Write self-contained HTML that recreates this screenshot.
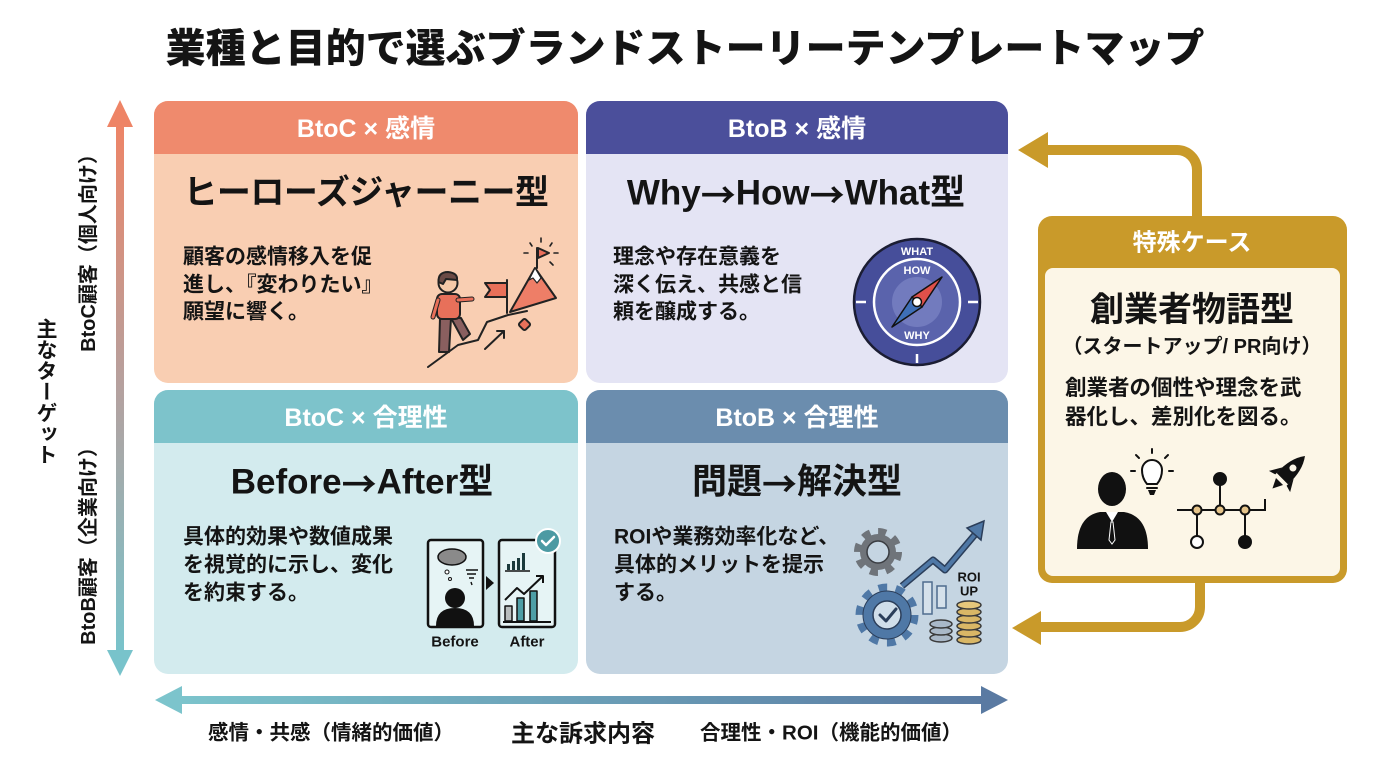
<!DOCTYPE html>
<html><head><meta charset="utf-8">
<style>
html,body{margin:0;padding:0;background:#fff;}
#wrap{position:relative;width:1376px;height:768px;overflow:hidden;background:#fff;font-family:"Liberation Sans","Noto Sans CJK JP",sans-serif;}
svg{position:absolute;left:0;top:0;}
svg text{font-family:"Liberation Sans","Noto Sans CJK JP",sans-serif;font-weight:700;fill:#141414;}
.ar{font-family:"Noto Sans CJK JP",sans-serif;}
.vt{position:absolute;left:34px;top:318px;writing-mode:vertical-rl;font-size:21px;font-weight:700;color:#141414;line-height:22px;font-family:"Liberation Sans","Noto Sans CJK JP",sans-serif;}
</style></head>
<body><div id="wrap">
<svg width="1376" height="768" viewBox="0 0 1376 768">
<defs>
<clipPath id="c1"><rect x="154" y="101" width="424" height="282" rx="14"/></clipPath>
<clipPath id="c2"><rect x="586" y="101" width="422" height="282" rx="14"/></clipPath>
<clipPath id="c3"><rect x="154" y="390" width="424" height="284" rx="14"/></clipPath>
<clipPath id="c4"><rect x="586" y="390" width="422" height="284" rx="14"/></clipPath>
<linearGradient id="gv" x1="0" y1="0" x2="0" y2="1">
<stop offset="0" stop-color="#EE8466"/><stop offset="0.5" stop-color="#B5A19F"/><stop offset="1" stop-color="#78C3CB"/>
</linearGradient>
<linearGradient id="gh" x1="0" y1="0" x2="1" y2="0">
<stop offset="0" stop-color="#7CC4CC"/><stop offset="1" stop-color="#5A7AA2"/>
</linearGradient>
</defs>

<!-- Title -->
<text x="685" y="49" text-anchor="middle" dominant-baseline="central" style="font-size:40px;font-weight:900">業種と目的で選ぶブランドストーリーテンプレートマップ</text>

<!-- Panels -->
<g clip-path="url(#c1)"><rect x="154" y="101" width="424" height="282" fill="#F9CEB2"/><rect x="154" y="101" width="424" height="53" fill="#EF8A6D"/></g>
<g clip-path="url(#c2)"><rect x="586" y="101" width="422" height="282" fill="#E4E4F4"/><rect x="586" y="101" width="422" height="53" fill="#4B4F9B"/></g>
<g clip-path="url(#c3)"><rect x="154" y="390" width="424" height="284" fill="#D3EBEE"/><rect x="154" y="390" width="424" height="53" fill="#7DC3CB"/></g>
<g clip-path="url(#c4)"><rect x="586" y="390" width="422" height="284" fill="#C5D5E2"/><rect x="586" y="390" width="422" height="53" fill="#6B8DAE"/></g>

<!-- headers -->
<g style="font-size:25px">
<text x="366" y="129" text-anchor="middle" dominant-baseline="central" style="fill:#fff">BtoC × 感情</text>
<text x="797" y="129" text-anchor="middle" dominant-baseline="central" style="fill:#fff">BtoB × 感情</text>
<text x="366" y="418" text-anchor="middle" dominant-baseline="central" style="fill:#fff">BtoC × 合理性</text>
<text x="797" y="418" text-anchor="middle" dominant-baseline="central" style="fill:#fff">BtoB × 合理性</text>
</g>

<!-- panel titles -->
<text x="366" y="193" text-anchor="middle" dominant-baseline="central" style="font-size:34px;letter-spacing:-0.5px">ヒーローズジャーニー型</text>
<text x="796" y="193" text-anchor="middle" dominant-baseline="central" style="font-size:35px">Why<tspan class="ar">→</tspan>How<tspan class="ar">→</tspan>What型</text>
<text x="362" y="482" text-anchor="middle" dominant-baseline="central" style="font-size:35px">Before<tspan class="ar">→</tspan>After型</text>
<text x="797" y="482" text-anchor="middle" dominant-baseline="central" style="font-size:35px">問題<tspan class="ar">→</tspan>解決型</text>

<!-- body text -->
<g style="font-size:21px">
<text x="183" y="257" dominant-baseline="central">顧客の感情移入を促</text>
<text x="183" y="285" dominant-baseline="central">進し、『変わりたい』</text>
<text x="183" y="312" dominant-baseline="central">願望に響く。</text>
<text x="613" y="257" dominant-baseline="central">理念や存在意義を</text>
<text x="613" y="285" dominant-baseline="central">深く伝え、共感と信</text>
<text x="613" y="312" dominant-baseline="central">頼を醸成する。</text>
<text x="183" y="537" dominant-baseline="central">具体的効果や数値成果</text>
<text x="183" y="565" dominant-baseline="central">を視覚的に示し、変化</text>
<text x="183" y="593" dominant-baseline="central">を約束する。</text>
<text x="614" y="537" dominant-baseline="central">ROIや業務効率化など、</text>
<text x="614" y="565" dominant-baseline="central">具体的メリットを提示</text>
<text x="614" y="593" dominant-baseline="central">する。</text>
</g>

<!-- TL icon: hero climbing -->
<g stroke="#222" stroke-width="2" stroke-linecap="round" stroke-linejoin="round">
 <g stroke-width="1.6">
 <line x1="541" y1="238" x2="541" y2="242"/><line x1="530" y1="243" x2="532" y2="246"/><line x1="552" y1="243" x2="550" y2="246"/>
 <line x1="524" y1="253" x2="528" y2="253"/><line x1="554" y1="253" x2="558" y2="253"/><line x1="550" y1="262" x2="553" y2="265"/>
 </g>
 <line x1="537" y1="268" x2="537" y2="248"/>
 <polygon points="538,248 549,253 538,258" fill="#E96F5B"/>
 <polygon points="535,268 510,312 556,298" fill="#EE7E67"/>
 <polygon points="535,268 529,280 533,278 537,283 541,278" fill="#fff" stroke-width="1.2"/>
 <line x1="507" y1="280" x2="507" y2="313"/>
 <polygon points="485,283 507,283 507,297 485,297 490,290" fill="#E8705A"/>
 <polyline points="428,367 458,345 478,340 487,322 508,315 527,311" fill="none"/>
 <line x1="485" y1="349" x2="504" y2="331"/><polyline points="497,331 504,331 504,338" fill="none"/>
 <rect x="520" y="320" width="9" height="9" rx="2" fill="#E8705A" transform="rotate(45 524.5 324.5)"/>
 <!-- person -->
 <polygon points="440,318 451,318 449,352 439,352" fill="#8A5F5F"/>
 <polygon points="451,318 461,318 470,334 463,340" fill="#8A5F5F"/>
 <rect x="437" y="294" width="23" height="25" rx="5" fill="#E8705A"/>
 <path d="M458,300 L472,299" stroke-width="5" stroke="#222"/><path d="M458,300 L472,299" stroke-width="3" stroke="#E8705A"/>
 <path d="M438,300 L433,317" stroke-width="5" stroke="#222"/><path d="M438,300 L433,317" stroke-width="3" stroke="#E8705A"/>
 <circle cx="448" cy="283" r="9.5" fill="#F6C9A8"/>
 <path d="M438.5,282 Q438,272 448,272 Q458,273 457,280 L446,279 L443,284 Z" fill="#6B4A45"/>
</g>

<!-- TR compass -->
<g>
 <circle cx="917" cy="302" r="63" fill="#464E9A" stroke="#1b1d33" stroke-width="2.5"/>
 <circle cx="917" cy="302" r="43" fill="#5A63AC" stroke="#fff" stroke-width="2.5"/>
 <circle cx="917" cy="302" r="25" fill="#727BBE"/>
 <line x1="856" y1="302" x2="866" y2="302" stroke="#fff" stroke-width="2.5"/>
 <line x1="968" y1="302" x2="978" y2="302" stroke="#fff" stroke-width="2.5"/>
 <line x1="917" y1="354" x2="917" y2="363" stroke="#fff" stroke-width="2.5"/>
 <text x="917" y="252" text-anchor="middle" dominant-baseline="central" style="font-size:11px;fill:#fff">WHAT</text>
 <text x="917" y="271" text-anchor="middle" dominant-baseline="central" style="font-size:11px;fill:#fff">HOW</text>
 <text x="917" y="336" text-anchor="middle" dominant-baseline="central" style="font-size:11px;fill:#fff">WHY</text>
 <polygon points="942,277 922,307 912,297" fill="#E0504A" stroke="#111" stroke-width="1.5" stroke-linejoin="round"/>
 <polygon points="892,327 922,307 912,297" fill="#3E6FB8" stroke="#111" stroke-width="1.5" stroke-linejoin="round"/>
 <circle cx="917" cy="302" r="4.5" fill="#fff" stroke="#111" stroke-width="1.5"/>
</g>

<!-- BL icon: before/after -->
<g stroke="#111" stroke-width="2.5" stroke-linejoin="round">
 <rect x="428" y="540" width="55" height="87" rx="3" fill="#E6F4F5"/>
 <circle cx="455" cy="598" r="10" fill="#111" stroke="none"/>
 <path d="M436,626 Q436,608 455,608 Q474,608 474,626 Z" fill="#111" stroke="none"/>
 <ellipse cx="452" cy="557" rx="14" ry="8" fill="#8A8A8A" stroke-width="1.5"/>
 <circle cx="447" cy="572" r="2" fill="#fff" stroke-width="1"/>
 <circle cx="450" cy="579" r="1.5" fill="#fff" stroke-width="1"/>
 <path d="M466,570 L478,570 M467,574 L476,574 M469,578 L474,578 M471,582 L472,585" stroke-width="1.4" fill="none"/>
 <polygon points="486,576 494,583 486,590" fill="#111" stroke="none"/>
 <rect x="499" y="540" width="56" height="87" rx="3" fill="#E6F4F5"/>
 <g stroke="none" fill="#1b3a3c">
  <rect x="507" y="564" width="3" height="6"/><rect x="512" y="561" width="3" height="9"/><rect x="517" y="558" width="3" height="12"/><rect x="522" y="553" width="3" height="17"/>
 </g>
 <line x1="505" y1="571" x2="530" y2="571" stroke-width="1.5"/>
 <polyline points="505,600 517,588 524,594 543,576" fill="none" stroke-width="2"/>
 <polyline points="536,576 543,576 543,583" fill="none" stroke-width="2"/>
 <rect x="505" y="606" width="7" height="15" fill="#B8BDBD" stroke-width="1.5"/>
 <rect x="517" y="598" width="7" height="23" fill="#4E9EA6" stroke-width="1.5"/>
 <rect x="530" y="591" width="7" height="30" fill="#4E9EA6" stroke-width="1.5"/>
 <line x1="503" y1="622" x2="551" y2="622" stroke-width="2"/>
 <circle cx="548" cy="541" r="12" fill="#4C9AA3" stroke="#fff" stroke-width="2"/>
 <polyline points="542,541 546,545 554,537" fill="none" stroke="#fff" stroke-width="2.5" stroke-linecap="round"/>
</g>
<text x="455" y="642" text-anchor="middle" dominant-baseline="central" style="font-size:15px">Before</text>
<text x="527" y="642" text-anchor="middle" dominant-baseline="central" style="font-size:15px">After</text>

<!-- BR icon: gears ROI -->
<g>
 <circle cx="878" cy="552" r="20" fill="none" stroke="#6F747A" stroke-width="8" stroke-dasharray="7.85 7.85"/>
 <circle cx="878" cy="552" r="18" fill="#6F747A"/>
 <circle cx="878" cy="552" r="11" fill="#C5D5E2" stroke="#3a3d42" stroke-width="1.5"/>
 <circle cx="887" cy="615" r="27" fill="none" stroke="#4F78A6" stroke-width="9" stroke-dasharray="8.48 8.48"/>
 <circle cx="887" cy="615" r="24" fill="#4F78A6" stroke="#2B3E5A" stroke-width="1"/>
 <circle cx="887" cy="615" r="14" fill="#D0DEEA" stroke="#2B3E5A" stroke-width="1.5"/>
 <polyline points="880,615 886,621 896,609" fill="none" stroke="#2B3E5A" stroke-width="3" stroke-linecap="round" stroke-linejoin="round"/>
 <rect x="923" y="582" width="9" height="32" fill="#D5E1EB" stroke="#4F6C8E" stroke-width="1.5"/>
 <rect x="937" y="586" width="9" height="22" fill="#D5E1EB" stroke="#4F6C8E" stroke-width="1.5"/>
 <polyline points="902,586 933,560 945,570 978,531" fill="none" stroke="#2B3E5A" stroke-width="7" stroke-linejoin="round"/>
 <polyline points="902,586 933,560 945,570 978,531" fill="none" stroke="#4F78A6" stroke-width="4" stroke-linejoin="round"/>
 <polygon points="984,521 967,528 981,540" fill="#4F78A6" stroke="#2B3E5A" stroke-width="1.5"/>
 <g stroke="#3a3a3a" stroke-width="1.5">
  <ellipse cx="941" cy="638" rx="11" ry="4" fill="#A9B8C8"/>
  <ellipse cx="941" cy="631" rx="11" ry="4" fill="#A9B8C8"/>
  <ellipse cx="941" cy="624" rx="11" ry="4" fill="#A9B8C8"/>
  <ellipse cx="969" cy="640" rx="12" ry="4" fill="#D9B766"/>
  <ellipse cx="969" cy="633" rx="12" ry="4" fill="#D9B766"/>
  <ellipse cx="969" cy="626" rx="12" ry="4" fill="#D9B766"/>
  <ellipse cx="969" cy="619" rx="12" ry="4" fill="#D9B766"/>
  <ellipse cx="969" cy="612" rx="12" ry="4" fill="#D9B766"/>
  <ellipse cx="969" cy="605" rx="12" ry="4" fill="#E6C77B"/>
 </g>
 <text x="969" y="577" text-anchor="middle" dominant-baseline="central" style="font-size:13px">ROI</text>
 <text x="969" y="591" text-anchor="middle" dominant-baseline="central" style="font-size:13px">UP</text>
</g>

<!-- Left axis arrow -->
<rect x="116" y="122" width="8" height="532" fill="url(#gv)"/>
<polygon points="120,100 107,127 133,127" fill="#EE8466"/>
<polygon points="120,676 107,650 133,650" fill="#78C3CB"/>
<text transform="translate(89,248) rotate(-90)" text-anchor="middle" dominant-baseline="central" style="font-size:20px">BtoC顧客（個人向け）</text>
<text transform="translate(89,541) rotate(-90)" text-anchor="middle" dominant-baseline="central" style="font-size:20px">BtoB顧客（企業向け）</text>

<!-- Bottom axis arrow -->
<rect x="178" y="696" width="808" height="8" fill="url(#gh)"/>
<polygon points="155,700 182,686 182,714" fill="#7CC4CC"/>
<polygon points="1008,700 981,686 981,714" fill="#5A7AA2"/>
<text x="331" y="733" text-anchor="middle" dominant-baseline="central" style="font-size:20.5px">感情・共感（情緒的価値）</text>
<text x="583" y="734" text-anchor="middle" dominant-baseline="central" style="font-size:24px">主な訴求内容</text>
<text x="831" y="733" text-anchor="middle" dominant-baseline="central" style="font-size:20.5px">合理性・ROI（機能的価値）</text>

<!-- Gold connectors -->
<path d="M1197,218 V170 A20,20 0 0 0 1177,150 H1044" fill="none" stroke="#C99A2A" stroke-width="10"/>
<polygon points="1018,150 1048,132 1048,168" fill="#C99A2A"/>
<path d="M1200,580 V607 A20,20 0 0 1 1180,627 H1038" fill="none" stroke="#C99A2A" stroke-width="10"/>
<polygon points="1012,628 1041,611 1041,645" fill="#C99A2A"/>

<!-- Special case box -->
<rect x="1038" y="216" width="309" height="367" rx="14" fill="#C99A2A"/>
<rect x="1045" y="268" width="295" height="308" rx="8" fill="#FCF6E7"/>
<text x="1192" y="243" text-anchor="middle" dominant-baseline="central" style="font-size:24px;fill:#fff">特殊ケース</text>
<text x="1192" y="310" text-anchor="middle" dominant-baseline="central" style="font-size:34px">創業者物語型</text>
<text x="1192" y="347" text-anchor="middle" dominant-baseline="central" style="font-size:20px">（スタートアップ/ PR向け）</text>
<text x="1065" y="388" dominant-baseline="central" style="font-size:21.5px">創業者の個性や理念を武</text>
<text x="1065" y="417" dominant-baseline="central" style="font-size:21.5px">器化し、差別化を図る。</text>

<!-- special icons -->
<g>
 <ellipse cx="1112" cy="489" rx="14" ry="17" fill="#111"/>
 <path d="M1077,549 Q1077,516 1100,512 L1124,512 Q1148,516 1148,549 Z" fill="#111"/>
 <path d="M1106,512 L1112,522 L1118,512 Z" fill="#fff"/>
 <path d="M1111,522 L1113,522 L1115,540 L1112,544 L1109,540 Z" fill="#111" stroke="#fff" stroke-width="1"/>
 <g stroke="#111" stroke-width="2" stroke-linecap="round" fill="none">
  <path d="M1147,484 Q1142,478 1142,470 A10,10 0 1 1 1162,470 Q1162,478 1157,484 Z" fill="#fff"/>
  <line x1="1147" y1="488" x2="1157" y2="488"/>
  <line x1="1152" y1="453" x2="1152" y2="449"/>
  <line x1="1139" y1="458" x2="1136" y2="455"/>
  <line x1="1165" y1="458" x2="1168" y2="455"/>
  <line x1="1135" y1="471" x2="1131" y2="471"/>
  <line x1="1169" y1="471" x2="1173" y2="471"/>
 </g>
 <path d="M1148,490 L1156,490 L1154,495 L1150,495 Z" fill="#111"/>
 <g stroke="#111" stroke-width="2">
  <line x1="1177" y1="510" x2="1265" y2="510"/>
  <line x1="1265" y1="511" x2="1265" y2="499"/>
  <line x1="1220" y1="510" x2="1220" y2="482"/>
  <line x1="1197" y1="510" x2="1197" y2="536"/>
  <line x1="1245" y1="510" x2="1245" y2="536"/>
  <circle cx="1220" cy="479" r="6" fill="#111"/>
  <circle cx="1197" cy="542" r="6" fill="#fff"/>
  <circle cx="1245" cy="542" r="6" fill="#111"/>
  <circle cx="1197" cy="510" r="4.5" fill="#E5C48A"/>
  <circle cx="1220" cy="510" r="4.5" fill="#E5C48A"/>
  <circle cx="1245" cy="510" r="4.5" fill="#E5C48A"/>
 </g>
 <g transform="translate(1288,473) rotate(45)">
  <path d="M0,-24 Q9,-12 8,8 L-8,8 Q-9,-12 0,-24 Z" fill="#111"/>
  <circle cx="0" cy="-7" r="3.5" fill="#FCF6E7"/>
  <path d="M-8,0 L-15,12 L-8,10 Z" fill="#111"/>
  <path d="M8,0 L15,12 L8,10 Z" fill="#111"/>
  <path d="M-5,12 L0,22 L5,12 Z" fill="#111"/>
 </g>
</g>
</svg>
<div class="vt">主なターゲット</div>
</div></body></html>
